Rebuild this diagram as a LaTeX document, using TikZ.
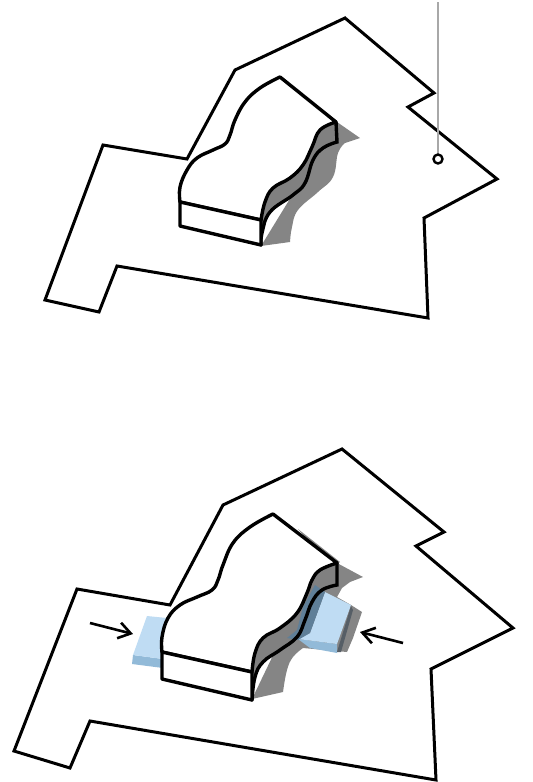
\documentclass[tikz,border=0pt]{standalone}
\usetikzlibrary{arrows.meta}
\definecolor{shadowgray}{HTML}{858585}
\definecolor{sidegray}{HTML}{808080}
\definecolor{bluetop}{HTML}{BFDCF3}
\definecolor{blueside}{HTML}{92BAD8}
\definecolor{blueshade}{HTML}{5F7F98}
\definecolor{bluestripe}{HTML}{565E66}
\definecolor{poleline}{HTML}{A8A8A8}
\tikzset{>={Straight Barb[length=6pt,width=8pt]},
  outline/.style={draw=black,line width=1.5pt,line join=miter},
  blockface/.style={fill=white,draw=black,line width=1.7pt,line join=round},
  shadow/.style={fill=shadowgray,draw=none},
  sideface/.style={fill=sidegray,draw=none},
  wave/.style={draw=black,line width=1.7pt,line cap=round},
  push/.style={->,draw=black,line width=1.3pt}}
\begin{document}
\begin{tikzpicture}[x=.5pt,y=-.5pt]
\useasboundingbox (0,0) rectangle (533,782);
% upper site
\draw[outline] (345,18)--(434,93)--(408,107)--(497,179)--(424,218)--(428,318)--(117,266)--(99,312)--(45,300)--(103,145)--(187,159)--(235,70)--cycle;
\draw[draw=poleline,line width=.6pt] (438,2)--(438,154);
\node[circle,draw=black,fill=white,line width=1.2pt,inner sep=0pt,minimum size=4.5pt] (polefoot) at (438,159) {};
\fill[shadow] (337,122)--(360,138)
  -- plot[smooth,tension=.7] coordinates {(345,143)(338,153)(333,177)(318,192)(298,210)(292,227)(290,242)} -- (261,246) -- cycle;
\fill[sideface] plot[smooth,tension=.7] coordinates {(336,122)(320,130)(312,147)(303,165)(290,178)(273,188)(265,202)(261,220)}
  -- (261,245) -- plot[smooth,tension=.7] coordinates {(262,233)(270,212)(293,195)(305,183)(313,160)(323,148)(337,142)} -- cycle;
\draw[wave] plot[smooth,tension=.7] coordinates {(261,245)(262,233)(270,212)(293,195)(305,183)(313,160)(323,148)(337,142)} -- (336,122);
\draw[blockface] plot[smooth,tension=.7] coordinates {(180,202)(180,187)(187,170)(197,158)(213,150)(225,144)(230,135)(235,120)(245,102)(260,88)(280,77)}
  -- (336,122) -- plot[smooth,tension=.7] coordinates {(336,122)(320,130)(312,147)(303,165)(290,178)(273,188)(265,202)(261,220)} -- cycle;
\draw[blockface] (180,202)--(261,220)--(261,245)--(180,226)--cycle;
% lower site
\draw[outline] (342,449)--(444,532)--(416,546)--(513,628)--(431,669)--(436,780)--(90,721)--(70,768)--(14,751)--(77,589)--(170,605)--(223,505)--cycle;
\fill[shadow] (298,529)--(340,562)--(337,564)--(310,543)--cycle;
\fill[shadow] (337,563)--(363,577)--(350,582)--(342,588)--(337,597)--(351,605)--(362,612)--(353,638)--(347,652)--(303,648)
  -- plot[smooth,tension=.7] coordinates {(303,648)(293,657)(287,670)(283,692)} -- (252,699) -- (290,620) -- cycle;
\fill[sideface] plot[smooth,tension=.7] coordinates {(337,563)(320,570)(312,580)(307,593)(297,613)(280,628)(263,638)(255,653)(252,672)}
  -- (252,700) -- plot[smooth,tension=.7] coordinates {(255,677)(263,662)(280,650)(297,637)(305,620)(312,602)(322,590)(337,585)} -- cycle;
\fill[blueside] (133,655)--(132,664)--(163,668)--(163,659)--cycle;
\fill[bluetop] (147,616)--(167,618)--(163,659)--(133,655)--cycle;
\fill[blueside] (298,639)--(337,644)--(337,653)--(310,648)--cycle;
\fill[bluetop] (325,592)--(351,605)--(337,644)--(298,639)--(310,633)--cycle;
\fill[bluestripe] (351,606)--(353,610)--(341,652)--(337,652)--cycle;
\fill[blueshade] (315,585)--(325,592)--(310,633)--(298,640)--(287,638)--(297,630)--(303,607)--cycle;
\draw[wave] plot[smooth,tension=.7] coordinates {(252,700)(255,677)(263,662)(280,650)(297,637)(305,620)(312,602)(322,590)(337,585)} -- (337,563);
\draw[blockface] plot[smooth,tension=.7] coordinates {(162,652)(162,637)(168,618)(180,605)(197,597)(212,590)(218,580)(223,565)(233,543)(250,527)(273,514)}
  -- (337,563) -- plot[smooth,tension=.7] coordinates {(337,563)(320,570)(312,580)(307,593)(297,613)(280,628)(263,638)(255,653)(252,672)} -- cycle;
\draw[blockface] (162,652)--(252,672)--(252,700)--(162,679)--cycle;
% arrows
\coordinate (leftstart) at (90,623);
\coordinate (leftend) at (133,634);
\coordinate (rightstart) at (403,643);
\coordinate (rightend) at (360,632);
\draw[push] (leftstart)--(leftend);
\draw[push] (rightstart)--(rightend);
\end{tikzpicture}
\end{document}
